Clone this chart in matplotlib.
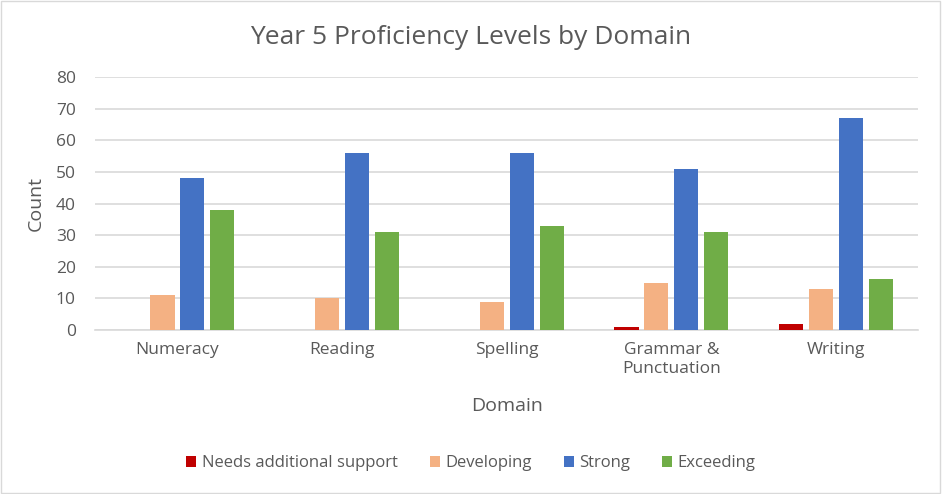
import matplotlib.pyplot as plt
import numpy as np
from matplotlib.patches import Rectangle

plt.rcParams["font.family"] = ["Open Sans", "DejaVu Sans"]

dominios = ["Numeracy", "Reading", "Spelling", "Grammar &\nPunctuation", "Writing"]
niveles = ["Needs additional support", "Developing", "Strong", "Exceeding"]
needs = [0, 0, 0, 1, 2]
developing = [11, 10, 9, 15, 13]
strong = [48, 56, 56, 51, 67]
exceeding = [38, 31, 33, 31, 16]
series = [needs, developing, strong, exceeding]
colores = ["#C00000", "#F4B183", "#4472C4", "#70AD47"]
gris = "#595959"

fig = plt.figure(figsize=(9.42, 4.94), dpi=100)
ax = fig.add_axes([0.101, 0.332, 0.874, 0.512])

x = np.arange(len(dominios))
ancho = 0.146
paso = 0.182
for i, (vals, col, nom) in enumerate(zip(series, colores, niveles)):
    ax.bar(x + (i - 1.5) * paso, vals, width=ancho, color=col, label=nom, zorder=3)

ax.set_xlim(-0.5, len(dominios) - 0.5)
ax.set_ylim(0, 80)
ax.set_yticks(range(0, 81, 10))
ax.yaxis.grid(True, color="#D9D9D9", linewidth=1.2, zorder=0)
ax.set_xticks(x)
ax.set_xticklabels(dominios, fontsize=12.5, color=gris, linespacing=1.25)
ax.tick_params(axis="y", labelsize=12.5, labelcolor=gris, length=0, pad=14)
ax.tick_params(axis="x", length=0, pad=9)
for s in ["top", "right", "left"]:
    ax.spines[s].set_visible(False)
ax.spines["bottom"].set_color("#D9D9D9")
ax.spines["bottom"].set_linewidth(1.2)

ax.set_xlabel("Domain", fontsize=14, color=gris, labelpad=14)
ax.set_ylabel("Count", fontsize=14, color=gris, labelpad=8)
fig.text(0.5, 0.925, "Year 5 Proficiency Levels by Domain", ha="center", va="center",
         fontsize=19, color=gris)

fig.legend(loc="center", bbox_to_anchor=(0.5, 0.062), ncol=4, frameon=False,
           fontsize=12, labelcolor=gris, handlelength=0.6, handleheight=0.6,
           handletextpad=0.35, columnspacing=1.9)

fig.patches.append(Rectangle((0.001, 0.002), 0.997, 0.995, transform=fig.transFigure,
                             fill=False, edgecolor="#D9D9D9", linewidth=1))

fig.savefig("out.png", dpi=100, facecolor="white")
